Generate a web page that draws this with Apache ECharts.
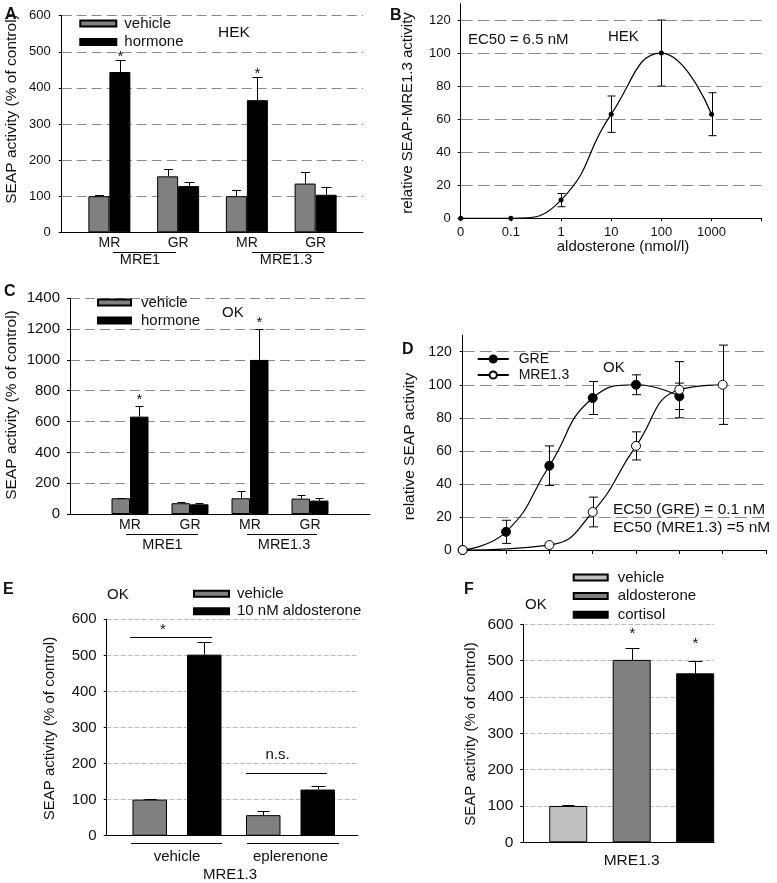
<!DOCTYPE html>
<html><head><meta charset="utf-8">
<script src="https://cdn.jsdelivr.net/npm/echarts@6/dist/echarts.min.js"></script>
<style>html,body{margin:0;padding:0;background:#fff}#c{width:777px;height:883px}</style>
</head><body><div id="c"></div>
<script>
// ---------- Panel A (HEK, bars) ----------
const catsA = ['MR', 'GR', 'MR', 'GR'];
const vehA = [100, 155, 100, 135];
const vehErrA = [2, 20, 16, 33];
const horA = [444, 128, 366, 104];
const horErrA = [33, 12, 63, 21];
const horSigA = [1, 0, 1, 0];
// ---------- Panel B (HEK, dose response) ----------
const doseLabels = ['0', '0.1', '1', '10', '100', '1000', ''];
const doseIdxB = [0, 1, 2, 3, 4, 5];
const actB = [0, 0, 11, 63, 100, 63];
const actErrB = [0, 0, 4, 11, 20, 13];
// ---------- Panel C (OK, bars) ----------
const catsC = ['MR', 'GR', 'MR', 'GR'];
const vehC = [102, 70, 102, 100];
const vehErrC = [5, 7, 47, 25];
const horC = [632, 63, 1000, 87];
const horErrC = [71, 6, 199, 15];
const horSigC = [1, 0, 1, 0];
// ---------- Panel D (OK, dose response) ----------
const doseIdxGRE = [0, 1, 2, 3, 4, 5];
const gre = [0, 11, 51, 92, 100, 93];
const greErr = [0, 7, 12, 10, 6, 8];
const doseIdxMRE = [0, 2, 3, 4, 5, 6];
const mre = [0, 3, 23, 63, 97, 100];
const mreErr = [0, 0, 9, 8.5, 17, 24];
// ---------- Panel E (OK, eplerenone) ----------
const catsE = ['vehicle', 'eplerenone'];
const vehE = [100, 57];
const vehErrE = [2, 11];
const aldoE = [502, 128];
const aldoErrE = [36, 11];
// ---------- Panel F (OK, aldosterone vs cortisol) ----------
const catsF = ['MRE1.3'];
const vehF = [100];
const vehErrF = [2];
const aldoF = [502];
const aldoErrF = [34];
const cortF = [465];
const cortErrF = [34];
const sigF = [1];

const FONT = "'Liberation Sans', Arial, sans-serif";
const TXT = '#111';
const GRAY = '#808080';
const LIGHT = '#c0c0c0';

function frameX(gi) {
  return {gridIndex: gi, type: 'value', min: 0, max: 1,
    axisLine: {show: true, onZero: false, lineStyle: {color: '#000', width: 1}},
    axisTick: {show: false}, axisLabel: {show: false}, splitLine: {show: false}};
}
function catX(gi, data, margin, size) {
  return {gridIndex: gi, type: 'category', data: data,
    axisLine: {show: false}, axisTick: {show: false},
    axisLabel: {margin: margin, fontSize: size, fontFamily: FONT, color: TXT, interval: 0},
    splitLine: {show: false}};
}
function hidY(gi, max) {
  return {gridIndex: gi, type: 'value', min: 0, max: max, show: false};
}
function valY(gi, max, interval, size, margin, gridColor, dash) {
  return {gridIndex: gi, type: 'value', min: 0, max: max, interval: interval,
    axisLine: {show: true, lineStyle: {color: '#000', width: 1}},
    axisTick: {show: true, length: 3, lineStyle: {color: '#000'}},
    axisLabel: {fontSize: size, fontFamily: FONT, color: TXT, margin: margin, formatter: v => String(v)},
    splitLine: {show: true, lineStyle: {color: gridColor, type: dash, width: 1}}};
}
function extY(gi, max) {
  return {gridIndex: gi, type: 'value', min: 0, max: max,
    axisLine: {show: true, lineStyle: {color: '#000', width: 1}},
    axisTick: {show: false}, axisLabel: {show: false}, splitLine: {show: false}};
}
function txtStyle(text, size, align, bold) {
  return {text: text, font: (bold ? 'bold ' : '') + size + 'px ' + FONT, fill: TXT,
    align: align, textAlign: align, verticalAlign: 'middle', textVerticalAlign: 'middle'};
}
function barErr(name, xi, yi, vals, errs, sig, offset, cap, starGap) {
  return {type: 'custom', name: name, xAxisIndex: xi, yAxisIndex: yi, z: 5, silent: true, clip: false,
    data: vals.map((v, i) => [i, v, errs[i], sig ? sig[i] : 0]),
    renderItem: function (params, api) {
      const base = api.coord([api.value(0), api.value(1)]);
      const top = api.coord([api.value(0), api.value(1) + api.value(2)]);
      const x = Math.round(base[0] + offset) + 0.5;
      const ty = Math.round(top[1]) + 0.5;
      const ch = [
        {type: 'line', shape: {x1: x, y1: base[1], x2: x, y2: ty}, style: {stroke: '#000', lineWidth: 1}},
        {type: 'line', shape: {x1: x - cap / 2, y1: ty, x2: x + cap / 2, y2: ty}, style: {stroke: '#000', lineWidth: 1}}
      ];
      if (api.value(3)) {
        ch.push({type: 'text', x: x, y: ty - starGap, style: txtStyle('*', 15, 'center', false)});
      }
      return {type: 'group', children: ch};
    }};
}
function symErr(name, xi, yi, xs, ys, es, cap) {
  return {type: 'custom', name: name, xAxisIndex: xi, yAxisIndex: yi, z: 1, silent: true, clip: false,
    data: xs.map((x, i) => [x, ys[i], es[i]]),
    renderItem: function (params, api) {
      const e = api.value(2);
      if (!e) return {type: 'group', children: []};
      const lo = api.coord([api.value(0), api.value(1) - e]);
      const hi = api.coord([api.value(0), api.value(1) + e]);
      const x = Math.round(lo[0]) + 0.5;
      const s = {stroke: '#000', lineWidth: 1};
      return {type: 'group', children: [
        {type: 'line', shape: {x1: x, y1: lo[1], x2: x, y2: hi[1]}, style: s},
        {type: 'line', shape: {x1: x - cap / 2, y1: lo[1], x2: x + cap / 2, y2: lo[1]}, style: s},
        {type: 'line', shape: {x1: x - cap / 2, y1: hi[1], x2: x + cap / 2, y2: hi[1]}, style: s}
      ]};
    }};
}
function barS(name, xi, yi, data, color, width, gap) {
  return {type: 'bar', name: name, xAxisIndex: xi, yAxisIndex: yi, data: data,
    barWidth: width, barGap: gap, silent: true,
    itemStyle: {color: color, borderColor: '#000', borderWidth: 1}};
}
function legendBox(left, top, names, w, gap, size, pad, extra) {
  return Object.assign({left: left, top: top, orient: 'vertical', padding: 0, icon: 'rect',
    itemWidth: w, itemHeight: 6, itemGap: gap, selectedMode: false, data: names,
    textStyle: {fontSize: size, fontFamily: FONT, color: TXT, padding: [0, 0, 0, pad]}}, extra || {});
}

const grids = [
  {left: 61.7, top: 15.7, width: 301.3, height: 216.6},   // 0 A frame
  {left: 75, top: 15.7, width: 275, height: 216.6},       // 1 A bars
  {left: 460.7, top: 3.5, width: 301, height: 214.8},     // 2 B axis extension
  {left: 460.7, top: 20, width: 301, height: 198.3},      // 3 B main
  {left: 70, top: 298.3, width: 300, height: 215.7},      // 4 C frame
  {left: 100, top: 298.3, width: 240, height: 215.7},     // 5 C bars
  {left: 462.7, top: 335.2, width: 303.3, height: 214.8}, // 6 D axis extension
  {left: 462.7, top: 351.7, width: 303.3, height: 198.3}, // 7 D main
  {left: 106.7, top: 619.3, width: 251.3, height: 216.4}, // 8 E frame
  {left: 120.25, top: 619.3, width: 227, height: 216.4},  // 9 E bars
  {left: 523.3, top: 624.3, width: 190.7, height: 218},   // 10 F frame
  {left: 536.7, top: 624.3, width: 190, height: 218}      // 11 F bars
].map(g => Object.assign({outerBoundsMode: 'none', containLabel: false}, g));

const DARKGRID = '#8a8a8a';
const xAxes = [
  frameX(0),
  catX(1, catsA, 4, 14),
  {gridIndex: 2, type: 'value', min: 0, max: 6, show: false},
  {gridIndex: 3, type: 'value', min: 0, max: 6, interval: 1,
    axisLine: {show: true, onZero: false, lineStyle: {color: '#000'}},
    axisTick: {show: true, length: 3, lineStyle: {color: '#000'}},
    axisLabel: {fontSize: 13, fontFamily: FONT, color: TXT, margin: 8, formatter: v => doseLabels[v]},
    splitLine: {show: false}},
  frameX(4),
  catX(5, catsC, 4, 14),
  {gridIndex: 6, type: 'value', min: 0, max: 7, show: false},
  {gridIndex: 7, type: 'value', min: 0, max: 7, interval: 1,
    axisLine: {show: true, onZero: false, lineStyle: {color: '#000'}},
    axisTick: {show: true, length: 4, lineStyle: {color: '#000'}},
    axisLabel: {show: false}, splitLine: {show: false}},
  frameX(8),
  catX(9, catsE, 14, 15),
  frameX(10),
  catX(11, catsF, 10, 15.5)
];
const yAxes = [
  valY(0, 600, 100, 13, 11, DARKGRID, [10, 5]),
  hidY(1, 600),
  extY(2, 130),
  valY(3, 120, 20, 13, 10, DARKGRID, [12, 5]),
  valY(4, 1400, 200, 15, 10, DARKGRID, [10, 5]),
  hidY(5, 1400),
  extY(6, 130),
  valY(7, 120, 20, 14, 11, DARKGRID, [12, 5]),
  valY(8, 600, 100, 15, 10, '#bdbdbd', [5, 2]),
  hidY(9, 600),
  valY(10, 600, 100, 15.5, 10, '#bdbdbd', [5, 2]),
  hidY(11, 600)
];

const lineStyleBlack = {color: '#000', width: 1.2};
const SMOOTH = 0.5;
const series = [
  // A
  barS('vehicle', 1, 1, vehA, GRAY, 21, '0%'),
  barS('hormone', 1, 1, horA, '#000', 21, '0%'),
  barErr('errA1', 1, 1, vehA, vehErrA, null, -10.5, 9, 0),
  barErr('errA2', 1, 1, horA, horErrA, horSigA, 10.5, 10, 4),
  // B
  {type: 'line', name: 'aldosterone HEK', xAxisIndex: 3, yAxisIndex: 3, z: 3, silent: true,
    data: doseIdxB.map((x, i) => [x, actB[i]]), smooth: SMOOTH,
    symbol: 'circle', symbolSize: 5, showSymbol: true,
    itemStyle: {color: '#000'}, lineStyle: lineStyleBlack},
  symErr('errB', 3, 3, doseIdxB, actB, actErrB, 8),
  // C
  barS('vehicle', 5, 5, vehC, GRAY, 18.5, '0%'),
  barS('hormone', 5, 5, horC, '#000', 18.5, '0%'),
  barErr('errC1', 5, 5, vehC, vehErrC, null, -9.25, 8, 0),
  barErr('errC2', 5, 5, horC, horErrC, horSigC, 9.25, 8, 7),
  // D
  {type: 'line', name: 'GRE', xAxisIndex: 7, yAxisIndex: 7, z: 3, silent: true,
    data: doseIdxGRE.map((x, i) => [x, gre[i]]), smooth: SMOOTH,
    symbol: 'circle', symbolSize: 9, itemStyle: {color: '#000', borderColor: '#000', borderWidth: 1},
    lineStyle: lineStyleBlack},
  {type: 'line', name: 'MRE1.3', xAxisIndex: 7, yAxisIndex: 7, z: 3, silent: true,
    data: doseIdxMRE.map((x, i) => [x, mre[i]]), smooth: SMOOTH,
    symbol: 'circle', symbolSize: 9, itemStyle: {color: '#fff', borderColor: '#000', borderWidth: 1},
    lineStyle: lineStyleBlack},
  symErr('errGRE', 7, 7, doseIdxGRE, gre, greErr, 9),
  symErr('errMRE', 7, 7, doseIdxMRE, mre, mreErr, 9),
  // E
  barS('vehicle', 9, 9, vehE, GRAY, 34.5, '58%'),
  barS('10 nM aldosterone', 9, 9, aldoE, '#000', 34.5, '58%'),
  barErr('errE1', 9, 9, vehE, vehErrE, null, -27.25, 12, 0),
  barErr('errE2', 9, 9, aldoE, aldoErrE, null, 27.25, 14, 0),
  // F
  barS('vehicle F', 11, 11, vehF, LIGHT, 38, '67%'),
  barS('aldosterone', 11, 11, aldoF, GRAY, 38, '67%'),
  barS('cortisol', 11, 11, cortF, '#000', 38, '67%'),
  barErr('errF1', 11, 11, vehF, vehErrF, null, -63.5, 12, 0),
  barErr('errF2', 11, 11, aldoF, aldoErrF, sigF, 0, 14, 15),
  barErr('errF3', 11, 11, cortF, cortErrF, sigF, 63.5, 14, 18)
];

const legends = [
  legendBox(79.3, 16, ['vehicle', 'hormone'], 36, 3.6, 15, 3),
  legendBox(97, 295, ['vehicle', 'hormone'], 33, 3, 15, 5),
  {left: 476.7, top: 352, orient: 'vertical', padding: 0, itemWidth: 31, itemHeight: 9, itemGap: 2,
    selectedMode: false, data: ['GRE', 'MRE1.3'],
    textStyle: {fontSize: 14, fontFamily: FONT, color: TXT, padding: [0, 0, 0, 5]}},
  legendBox(193, 586.2, ['vehicle', '10 nM aldosterone'], 35, 2.5, 15, 3),
  legendBox(572.7, 570, ['vehicle F', 'aldosterone', 'cortisol'], 34, 3.6, 15, 5,
    {formatter: n => n === 'vehicle F' ? 'vehicle' : n})
];

function T(text, x, y, size, align, bold, rot) {
  return {type: 'text', x: x, y: y, rotation: rot || 0, silent: true, style: txtStyle(text, size, align, bold)};
}
function L(x1, y1, x2, y2) {
  return {type: 'line', silent: true, shape: {x1: x1, y1: y1, x2: x2, y2: y2}, style: {stroke: '#000', lineWidth: 1}};
}
const R = Math.PI / 2;
const graphics = [
  // panel letters
  T('A', 5, 15, 16, 'left', true), T('B', 390, 16, 16, 'left', true),
  T('C', 4, 292, 16, 'left', true), T('D', 402, 350, 16, 'left', true),
  T('E', 3, 590, 16, 'left', true), T('F', 464, 590, 16, 'left', true),
  // y-axis titles
  T('SEAP activity (% of control)', 11.5, 109, 15.5, 'center', false, R),
  T('relative SEAP-MRE1.3 activity', 407.5, 113, 15, 'center', false, R),
  T('SEAP activity (% of control)', 11.5, 405, 15.5, 'center', false, R),
  T('relative SEAP activity', 410, 446.5, 15.5, 'center', false, R),
  T('SEAP activity (% of control)', 49.5, 728.5, 15, 'center', false, R),
  T('SEAP activity (% of control)', 470.5, 734, 15, 'center', false, R),
  // A annotations
  T('HEK', 218, 33, 15.5, 'left'),
  L(113, 252.5, 176, 252.5), T('MRE1', 140, 260, 14.5, 'center'),
  L(252, 252.5, 324, 252.5), T('MRE1.3', 286, 260, 14.5, 'center'),
  // B annotations
  T('EC50 = 6.5 nM', 468, 40, 15, 'left'), T('HEK', 608, 37, 15, 'left'),
  T('aldosterone (nmol/l)', 623, 247, 15, 'center'),
  // C annotations
  T('OK', 222, 313, 15, 'left'),
  L(126, 534.5, 198, 534.5), T('MRE1', 162.5, 545, 14.5, 'center'),
  L(247, 534.5, 317, 534.5), T('MRE1.3', 284, 545, 14.5, 'center'),
  // D annotations
  T('OK', 603, 368, 15, 'left'),
  T('EC50 (GRE) = 0.1 nM', 613, 510, 15.5, 'left'),
  T('EC50 (MRE1.3) =5 nM', 613, 528, 15.5, 'left'),
  // E annotations
  T('OK', 107, 595, 15, 'left'),
  L(130, 637.5, 212, 637.5), T('*', 163, 630, 15, 'center'),
  L(246, 773.5, 327, 773.5), T('n.s.', 277.5, 755, 15, 'center'),
  L(131, 843.5, 222, 843.5), L(247, 843.5, 339, 843.5),
  T('MRE1.3', 230, 875, 15, 'center'),
  // F annotations
  T('OK', 525, 605, 15, 'left')
];

const chart = echarts.init(document.getElementById('c'), null, {renderer: 'canvas'});
chart.setOption({
  animation: false,
  backgroundColor: '#fff',
  textStyle: {fontFamily: FONT},
  grid: grids,
  xAxis: xAxes,
  yAxis: yAxes,
  legend: legends,
  series: series,
  graphic: graphics
});
</script></body></html>
